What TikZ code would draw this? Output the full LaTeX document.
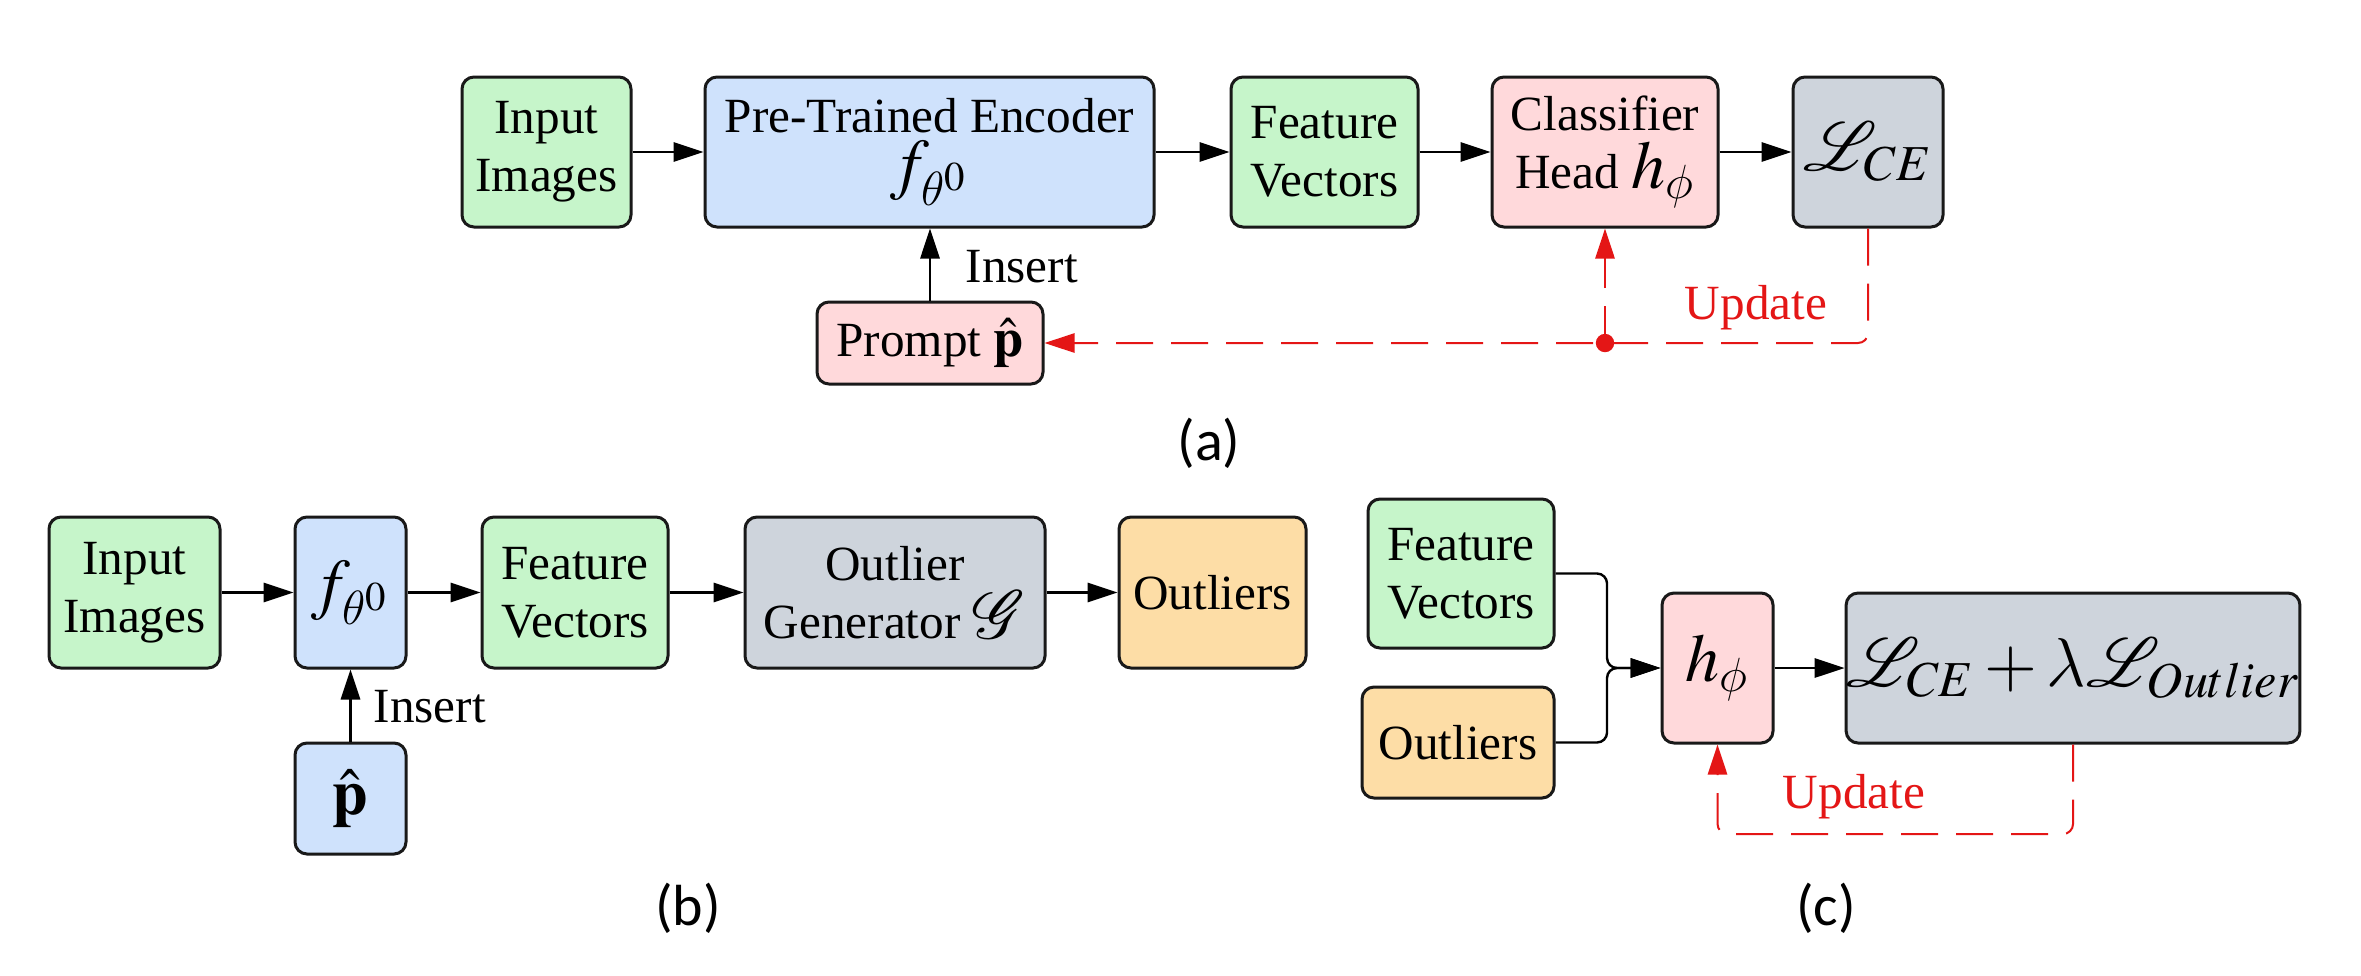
\documentclass[tikz,border=0pt]{standalone}
\usepackage{mathptmx}
\usepackage{mathrsfs}
\DeclareSymbolFont{cmletters}{OML}{cmm}{m}{it}
\DeclareMathSymbol{\theta}{\mathord}{cmletters}{"12}
\DeclareMathSymbol{\phi}{\mathord}{cmletters}{"1E}
\DeclareMathSymbol{\lambda}{\mathord}{cmletters}{"15}
\usepackage[no-math]{fontspec}
\setmainfont{Liberation Serif}
\newfontfamily\capfont{Carlito}
\usetikzlibrary{arrows.meta}
\definecolor{cgreen}{RGB}{198,245,202}
\definecolor{cblue}{RGB}{207,226,252}
\definecolor{cpink}{RGB}{255,217,219}
\definecolor{cgray}{RGB}{206,212,220}
\definecolor{corange}{RGB}{253,221,166}
\definecolor{cred}{RGB}{228,22,22}
\newcommand{\mth}[1]{{\fontsize{17}{20}\selectfont$#1$}}
\tikzset{
  box/.style={draw=black!90, line width=0.75pt, rounded corners=3pt, align=center, inner sep=0pt},
  conn/.style={draw=black, line width=0.6pt, -{Triangle[length=7.5pt,width=4.8pt]}},
  upd/.style={draw=cred, line width=0.5pt, dash pattern=on 9.25pt off 4.5pt, -{Triangle[length=7.5pt,width=4.8pt]}, rounded corners=2.5pt},
  subcap/.style={font=\capfont\fontsize{14.5}{17}\selectfont},
  lbl/.style={inner sep=0pt}
}
\begin{document}
\begin{tikzpicture}[x=0.25pt, y=-0.25pt, font=\fontsize{12.3}{14.5}\selectfont]
\useasboundingbox[fill=white] (0,0) rectangle (2361,975);
% ---------- (a)
\node[box, fill=cgreen, minimum width=42.25pt, minimum height=37.5pt] (inA) at (546.5,152) {Input\\Images};
\node[box, fill=cblue, minimum width=112.25pt, minimum height=37.5pt] (enc) at (929.5,152) {Pre-Trained Encoder\\[-1pt]\mth{f_{\theta^{0}}}};
\node[box, fill=cgreen, minimum width=46.75pt, minimum height=37.5pt] (fvA) at (1324.5,152) {Feature\\Vectors};
\node[box, fill=cpink, minimum width=56.5pt, minimum height=37.5pt] (clf) at (1605,152) {Classifier\\Head \mth{h_{\phi}}};
\node[box, fill=cgray, minimum width=37.5pt, minimum height=37.5pt] (lce) at (1868,152) {\mth{\mathscr{L}_{CE}}};
\node[box, fill=cpink, minimum width=56.5pt, minimum height=20.5pt] (prompt) at (930,343) {Prompt {\fontsize{13.5}{15}\selectfont$\hat{\mathbf{p}}$}};
\draw[conn] (inA) -- (enc);
\draw[conn] (enc) -- (fvA);
\draw[conn] (fvA) -- (clf);
\draw[conn] (clf) -- (lce);
\draw[conn] (prompt.north) -- (prompt.north |- enc.south);
\node[lbl, anchor=base west] (insA) at (965,282) {Insert};
\draw[upd] (lce.south) |- (prompt.east);
\coordinate (dot) at (clf.south |- prompt.east);
\fill[cred] (dot) circle (2.3pt);
\draw[upd] (dot) -- (clf.south);
\node[lbl, anchor=base, text=cred] (upA) at (1756,319) {Update};
\node[subcap] (capa) at (1209,443) {(a)};
% ---------- (b)
\node[box, fill=cgreen, minimum width=42.75pt, minimum height=37.75pt] (inB) at (134.5,592.5) {Input\\Images};
\node[box, fill=cblue, minimum width=27.75pt, minimum height=37.75pt] (fB) at (350.5,592.5) {\mth{f_{\theta^{0}}}};
\node[box, fill=cgreen, minimum width=46.5pt, minimum height=37.75pt] (fvB) at (575,592.5) {Feature\\Vectors};
\node[box, fill=cgray, minimum width=75pt, minimum height=37.75pt] (gen) at (895,592.5) {Outlier\\Generator \mth{\mathcal{G}}};
\node[box, fill=corange, minimum width=46.75pt, minimum height=37.75pt] (outB) at (1212.5,592.5) {Outliers};
\node[box, fill=cblue, minimum width=27.75pt, minimum height=27.75pt] (pB) at (350.5,798.5) {{\fontsize{16}{18}\selectfont$\hat{\mathbf{p}}$}};
\draw[conn] (inB) -- (fB);
\draw[conn] (fB) -- (fvB);
\draw[conn] (fvB) -- (gen);
\draw[conn] (gen) -- (outB);
\draw[conn] (pB) -- (fB);
\node[lbl, anchor=base west] (insB) at (373,722) {Insert};
\node[subcap] (capb) at (688,908) {(b)};
% ---------- (c)
\node[box, fill=cgreen, minimum width=46.5pt, minimum height=37.25pt] (fvC) at (1461,573.5) {Feature\\Vectors};
\node[box, fill=corange, minimum width=48pt, minimum height=27.75pt] (outC) at (1458,742.5) {Outliers};
\node[box, fill=cpink, minimum width=27.75pt, minimum height=37.5pt] (hC) at (1717.5,668) {\mth{h_{\phi}}};
\node[box, fill=cgray, minimum width=111pt, minimum height=37.5pt] (loss) at (2073,668) {\mth{\mathscr{L}_{CE}+\lambda\mathscr{L}_{Outlier}}};
\coordinate (mC) at (1607,668);
\draw[conn, rounded corners=2.5pt] (fvC.east) -| (mC) -- (hC.west);
\draw[conn, rounded corners=2.5pt] (outC.east) -| (mC) -- (hC.west);
\draw[conn] (hC) -- (loss);
\coordinate (cb) at (0,834);
\draw[upd] (loss.south) -- (loss.south |- cb) -| (hC.south);
\node[lbl, anchor=base, text=cred] (upC) at (1854,808) {Update};
\node[subcap] (capc) at (1826,908) {(c)};
\end{tikzpicture}
\end{document}
